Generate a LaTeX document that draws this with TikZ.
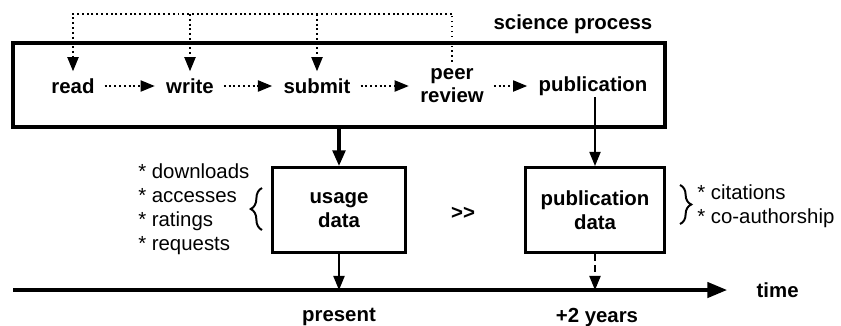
\documentclass[tikz,border=0pt]{standalone}
\usepackage{fontspec}
\setmainfont{Liberation Sans}
\usepackage{tikz}
\usetikzlibrary{
  positioning,
  arrows.meta,
  decorations.pathreplacing,
  calc
}
\definecolor{linecolor}{RGB}{0,0,0}
\tikzset{
  stepnode/.style={
    font=\fontsize{14.5}{16}\selectfont\bfseries, align=center, inner sep=1pt
  },
  databox/.style={
    draw=linecolor, line width=2.2pt,
    minimum width=133*0.025cm, minimum height=85*0.025cm,
    font=\fontsize{14.5}{17}\selectfont\bfseries, align=center
  },
  listnode/.style={
    font=\fontsize{14.5}{17.2}\selectfont, align=left, inner sep=0pt
  },
  dotarrow/.style={
    -{Triangle[length=10pt, width=8pt]}, line width=0.9pt,
    dash pattern=on 1.4pt off 2pt, draw=linecolor
  },
  dotline/.style={
    line width=0.9pt, dash pattern=on 0.9pt off 2.6pt, draw=linecolor
  },
  bigarrow/.style={
    -{Triangle[length=11pt, width=9pt]}, line width=2.2pt, draw=linecolor
  },
  thinarrow/.style={
    -{Triangle[length=10pt, width=8pt]}, line width=0.9pt, draw=linecolor
  },
  brace/.style={
    decorate, decoration={brace, amplitude=8pt}, line width=1.4pt
  }
}
\begin{document}
\begin{tikzpicture}[x=0.025cm, y=-0.025cm]
    \useasboundingbox (0,0) rectangle (841,325);

    % science process box
    \draw[line width=2.2pt] (13,43) rectangle (665,127);
    \node[stepnode, anchor=south east] (title) at (654,35) {science process};
    \coordinate (procbottom) at (339,127);

    \node[stepnode] (read) at (73,86) {read};
    \node[stepnode] (write) at (190,86) {write};
    \node[stepnode] (submit) at (317,86) {submit};
    \node[stepnode, font=\fontsize{14.5}{16.4}\selectfont\bfseries] (peer) at (452,86) {peer\\review};
    \node[stepnode] (pub) at (593,86) {publication};

    \draw[dotarrow, shorten <=6pt, shorten >=7pt] (read) -- (write);
    \draw[dotarrow, shorten <=6pt, shorten >=7pt] (write) -- (submit);
    \draw[dotarrow, shorten <=6pt, shorten >=7pt] (submit) -- (peer);
    \draw[dotarrow, shorten <=6pt, shorten >=7pt] (peer) -- (pub);

    % feedback loop
    \coordinate (looptop) at (452,14);
    \draw[dotline, shorten <=4pt] (peer.north) -- (looptop);
    \draw[dotarrow, shorten >=4pt] (looptop) -| (read.north);
    \draw[dotarrow, shorten >=4pt] (write.north |- looptop) -- (write.north);
    \draw[dotarrow, shorten >=4pt] (submit.north |- looptop) -- (submit.north);

    % data boxes
    \node[databox] (usage) at (339,210) {usage\\data};
    \node[databox, minimum width=139*0.025cm] (pubdata) at (595,210) {publication\\data};
    \node[stepnode] (gg) at (463,213) {>{}>};

    \draw[bigarrow] (procbottom) -- (usage.north);
    \draw[thinarrow] (pub.south -| pubdata.north) -- (pubdata.north);

    \node[listnode, anchor=north west] (usagelist) at (138,163) {* downloads\\* accesses\\* ratings\\* requests};
    \draw[brace] (262,230) -- (262,188);
    \node[listnode, anchor=north west] (publist) at (697,184) {* citations\\* co-authorship};
    \draw[brace] (680,185) -- (680,224);

    % time axis
    \coordinate (tstart) at (13,290);
    \coordinate (tend) at (727,290);
    \draw[-{Triangle[length=14pt, width=11pt]}, line width=2.2pt] (tstart) -- (tend);
    \node[stepnode, anchor=west] (time) at (755,290) {time};

    \draw[thinarrow] (usage.south) -- (usage.south |- tstart);
    \draw[thinarrow, dash pattern=on 5pt off 3pt] (pubdata.south) -- (pubdata.south |- tstart);

    \node[stepnode] (present) at (339,317) {present};
    \node[stepnode] (later) at (597,317) {+2 years};

\end{tikzpicture}
\end{document}
